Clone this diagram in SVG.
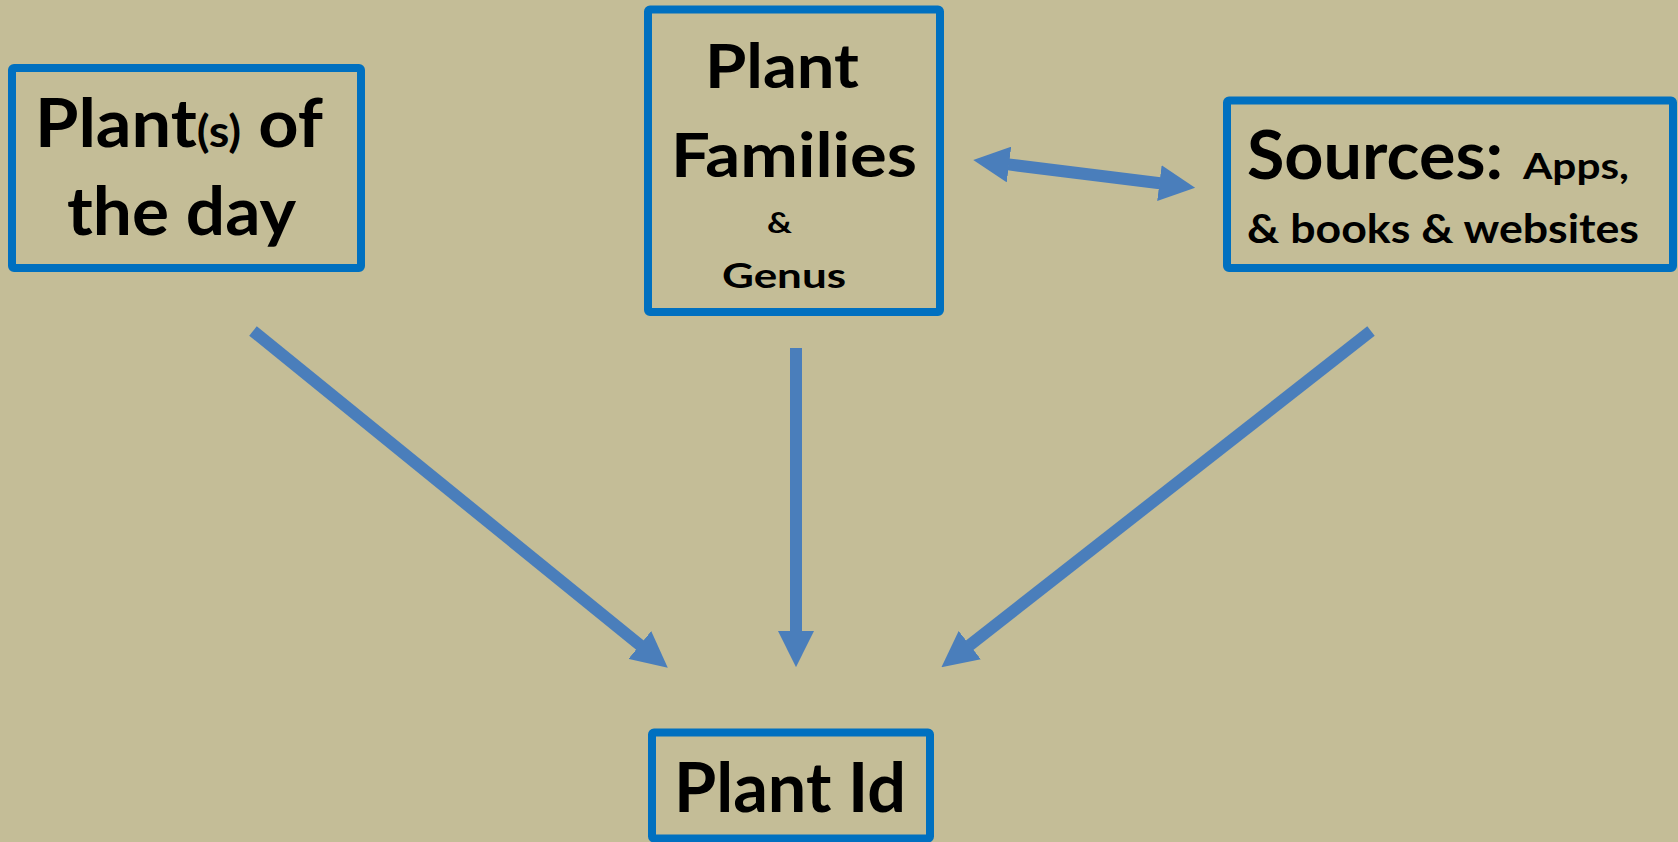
<svg xmlns="http://www.w3.org/2000/svg" width="1678" height="842" viewBox="0 0 1678 842">
<defs>
<style>
.bg{fill:#C4BD97}
.box{fill:none;stroke:#0070C0;stroke-width:8;stroke-linejoin:round}
.t{font-family:Lato,"Open Sans","Liberation Sans",sans-serif;font-weight:bold;fill:#000}
.arr{stroke:#4A7EBB;stroke-width:12;fill:none;stroke-linecap:butt;marker-end:url(#head)}
</style>
<marker id="head" viewBox="0 0 3 3" markerWidth="3" markerHeight="3" refX="0.05" refY="1.5" orient="auto-start-reverse" markerUnits="strokeWidth">
<path d="M0,0 L3,1.5 L0,3 z" fill="#4A7EBB"/>
</marker>
</defs>
<rect class="bg" x="0" y="0" width="1678" height="842"/>
<g id="connectors">
<line class="arr" x1="253" y1="331" x2="640.3" y2="645.4"/>
<line class="arr" x1="796" y1="348" x2="796" y2="631.7"/>
<line class="arr" x1="1371" y1="331" x2="969.3" y2="645.5"/>
<line class="arr" x1="1008.4" y1="164.4" x2="1160" y2="183.3" style="marker-start:url(#head)"/>
</g>
<g id="plants-of-the-day">
<rect class="box" x="12" y="68" width="349" height="200" rx="2"/>
<text class="t" x="35" y="147" font-size="66" textLength="288" lengthAdjust="spacingAndGlyphs">Plant<tspan font-size="44">(s)</tspan> of</text>
<text class="t" x="67" y="235" font-size="66" textLength="229" lengthAdjust="spacingAndGlyphs">the day</text>
</g>
<g id="plant-families">
<rect class="box" x="648" y="9.5" width="292" height="302.5" rx="2"/>
<text class="t" x="705" y="88" font-size="62" textLength="154" lengthAdjust="spacingAndGlyphs">Plant</text>
<text class="t" x="671" y="177" font-size="62" textLength="246" lengthAdjust="spacingAndGlyphs">Families</text>
<text class="t" x="767" y="233" font-size="28" textLength="25" lengthAdjust="spacingAndGlyphs">&amp;</text>
<text class="t" x="722" y="288" font-size="35" textLength="124" lengthAdjust="spacingAndGlyphs">Genus</text>
</g>
<g id="sources">
<rect class="box" x="1227" y="100.5" width="446" height="167.5" rx="2"/>
<text class="t" y="179"><tspan x="1247" font-size="67" textLength="256" lengthAdjust="spacingAndGlyphs">Sources:</tspan><tspan x="1523" font-size="37" textLength="106" lengthAdjust="spacingAndGlyphs">Apps,</tspan></text>
<text class="t" x="1247" y="243" font-size="40" textLength="392" lengthAdjust="spacingAndGlyphs">&amp; books &amp; websites</text>
</g>
<g id="plant-id">
<rect class="box" x="652" y="732.5" width="278" height="106" rx="2"/>
<text class="t" x="674" y="812" font-size="68" textLength="232" lengthAdjust="spacingAndGlyphs">Plant Id</text>
</g>
</svg>
